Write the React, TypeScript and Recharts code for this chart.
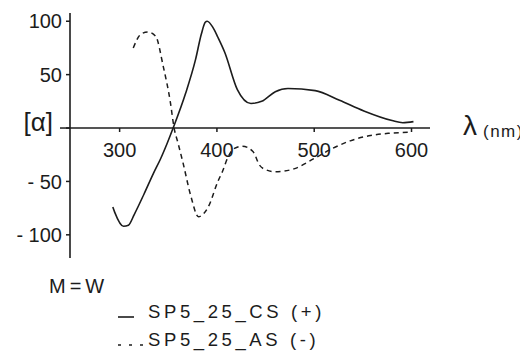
import { Label, Legend, Line, LineChart, ReferenceLine, XAxis, YAxis } from "recharts"

// solid curve, SP5_25_CS (+)
const csWavelength = [293, 295, 304, 309, 315, 325, 335, 342, 349, 355, 368, 378, 384, 388, 390, 396, 401, 408, 421, 435, 446, 460, 473, 501, 526, 551, 580, 591, 602];
const csRotation = [-74, -79, -92, -91, -81, -62, -42, -29, -14, 0, 33, 64, 88, 99, 100, 94, 85, 71, 36, 23, 25, 34, 37, 35, 26, 16, 7, 5, 6];

// dashed curve, SP5_25_AS (-)
const asWavelength = [314, 322, 329, 337, 345, 352, 356, 360, 365, 373, 381, 391, 401, 406, 411, 418, 426, 437, 444, 450, 460, 480, 501, 519, 537, 558, 576, 598];
const asRotation = [75, 88, 90, 86, 57, 25, 0, -14, -32, -63, -83, -74, -50, -40, -28, -19, -17, -22, -35, -39, -41, -38, -28, -19, -12, -7, -5, -4];

const seriesNames = ["SP5_25_CS (+)", "SP5_25_AS (-)"];

const xTicks = [300, 400, 500, 600];
const yTicks = [100, 50, 0, -50, -100];

const X_DOMAIN = [249, 619];
const Y_DOMAIN = [-121.7, 107.7];

const PLOT_TOP = 5;
const PLOT_H = 245;
// where the zero line sits (x axis is drawn through it)
const ZERO_Y = PLOT_TOP + (Y_DOMAIN[1] / (Y_DOMAIN[1] - Y_DOMAIN[0])) * PLOT_H;

const FONT = "'Liberation Sans', Arial, sans-serif";
const INK = "#1c1c1c";

const csData = csWavelength.map((x, i) => ({ x, y: csRotation[i] }));
const asData = asWavelength.map((x, i) => ({ x, y: asRotation[i] }));

function XTick({ x, payload }: any) {
  return (
    <g>
      <line x1={x} x2={x} y1={ZERO_Y} y2={ZERO_Y + 4} stroke={INK} strokeWidth={1.5} />
      <text x={x} y={ZERO_Y + 29} textAnchor="middle" fontSize={20} fontFamily={FONT} fill={INK}>
        {payload.value}
      </text>
    </g>
  );
}

function YTick({ x, y, payload }: any) {
  const v = payload.value;
  if (v === 0) {
    return (
      <g>
        <line x1={x - 2} x2={x + 8} y1={y} y2={y} stroke={INK} strokeWidth={1.5} />
        <text x={x - 9} y={y} dy="0.1em" textAnchor="end" fontSize={26} fontFamily={FONT} fill={INK}>
          [α]
        </text>
      </g>
    );
  }
  const label = v < 0 ? `- ${Math.abs(v)}` : `${v}`;
  return (
    <text x={x} y={y} dy="0.36em" textAnchor="end" fontSize={20} fontFamily={FONT} fill={INK}>
      {label}
    </text>
  );
}

function AxisTitle({ viewBox }: any) {
  const right = viewBox.x + viewBox.width;
  return (
    <g fontFamily={FONT} fill={INK}>
      <text x={right + 33} y={ZERO_Y + 7} fontSize={28}>λ</text>
      <text x={right + 53} y={ZERO_Y + 9} fontSize={17} letterSpacing={1.5}>(nm)</text>
    </g>
  );
}

function LegendBox({ payload }: any) {
  // keep the solid series on the first row
  const rows = [...(payload || [])].sort(
    (a: any, b: any) => seriesNames.indexOf(a.value) - seriesNames.indexOf(b.value)
  );
  return (
    <svg width={340} height={85} style={{ display: "block" }}>
      <text x={41} y={27} fontSize={20} fontFamily={FONT} fill={INK} letterSpacing={4}>M=W</text>
      {rows.map((entry: any, i: number) => {
        const dashed = entry.payload?.strokeDasharray;
        const rowY = 51 + i * 28;
        return (
          <g key={`leg-${i}`}>
            <line
              x1={110}
              x2={dashed ? 136 : 126}
              y1={rowY}
              y2={rowY}
              stroke={INK}
              strokeWidth={1.6}
              strokeDasharray={dashed ? "3 8" : undefined}
            />
            <text x={140} y={rowY + 1} fontSize={18.5} fontFamily={FONT} fill={INK} letterSpacing={3.6}>
              {entry.value}
            </text>
          </g>
        );
      })}
    </svg>
  );
}

export default function App() {
  return (
    <LineChart width={520} height={343} margin={{ top: PLOT_TOP, right: 98, bottom: 63, left: 12 }} style={{ fontFamily: FONT }}>
      <XAxis
        type="number"
        dataKey="x"
        domain={X_DOMAIN}
        ticks={xTicks}
        allowDataOverflow
        height={30}
        axisLine={false}
        tickLine={false}
        tick={<XTick />}
      />
      <YAxis
        type="number"
        dataKey="y"
        domain={Y_DOMAIN}
        ticks={yTicks}
        allowDataOverflow
        width={50}
        tickSize={4}
        tickMargin={4}
        stroke={INK}
        axisLine={{ stroke: INK, strokeWidth: 1.6 }}
        tickLine={{ stroke: INK, strokeWidth: 1.5 }}
        tick={<YTick />}
      />
      <ReferenceLine y={0} stroke={INK} strokeWidth={1.6}>
        <Label content={<AxisTitle />} />
      </ReferenceLine>
      <Line
        data={csData}
        dataKey="y"
        name={seriesNames[0]}
        type="monotone"
        stroke={INK}
        strokeWidth={1.6}
        dot={false}
        isAnimationActive={false}
      />
      <Line
        data={asData}
        dataKey="y"
        name={seriesNames[1]}
        type="monotone"
        stroke={INK}
        strokeWidth={1.5}
        strokeDasharray="5 4"
        dot={false}
        isAnimationActive={false}
      />
      <Legend
        layout="horizontal"
        verticalAlign="middle"
        align="center"
        content={<LegendBox />}
        wrapperStyle={{ left: 0, top: 258, width: 340, height: 85 }}
      />
    </LineChart>
  );
}
